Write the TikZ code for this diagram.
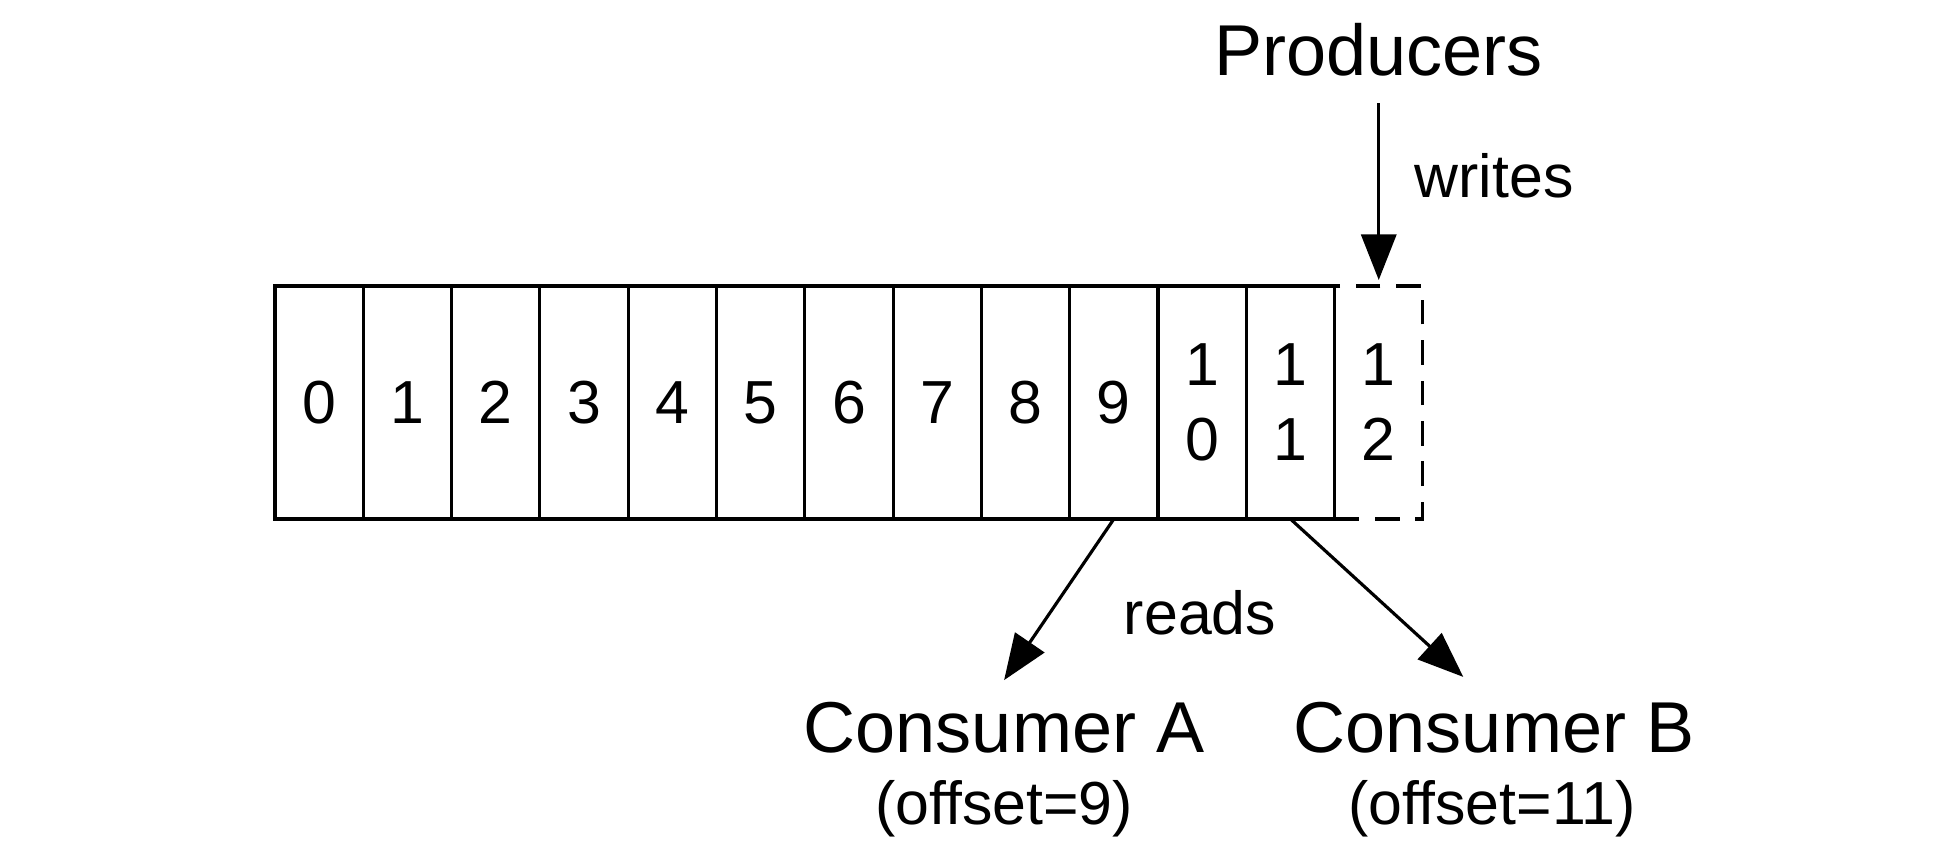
\documentclass[tikz,border=0pt]{standalone}
\usepackage{fontspec}
\setmainfont{Liberation Sans}
\usetikzlibrary{arrows.meta,positioning}
\newcommand{\cellfont}{\fontsize{17.3}{21.3}\selectfont}
\tikzset{
    myptr/.style={
        -{Triangle[length=13pt,width=10pt]},
        line width=0.9pt
    },
    cell/.style={
        draw,
        line width=0.9pt,
        minimum width=0.883cm,
        minimum height=2.33cm,
        inner sep=0pt,
        outer sep=0pt,
        align=center,
        font=\cellfont
    },
    newcell/.style={
        cell,
        dash pattern=on 7pt off 4.5pt
    },
    bigtext/.style={font=\fontsize{20.5}{24}\selectfont, inner sep=2pt},
    smalltext/.style={font=\cellfont, inner sep=2pt}
}

\begin{document}
\begin{tikzpicture}[
        ]
        \useasboundingbox (0,0) rectangle (19.6,8.43);

        % draw the log cells
        \foreach \k in {0,...,9}
        {
            \node[cell] (c\k) at ({2.75+0.883*\k+0.4415},4.405) {\k};
        }
        \node[cell] (c10) at ({2.75+0.883*10+0.4415},4.405) {1\\0};
        \node[cell] (c11) at ({2.75+0.883*11+0.4415},4.405) {1\\1};
        \node[newcell] (c12) at ({2.75+0.883*12+0.4415},4.405) {1\\2};

        % producers
        \node[bigtext, anchor=base] (prod) at (c12 |- 0,7.67) {Producers};
        \draw[myptr, shorten <=5.4pt, shorten >=1.7pt] (prod.south) -- (c12.north);
        \node[smalltext, anchor=base west] (wlbl) at (14.07,6.45) {writes};

        % consumers
        \node[bigtext, anchor=base] (consA) at (10.04,0.90) {Consumer A};
        \node[smalltext, anchor=base] (offA) at (10.04,0.18) {(offset=9)};
        \node[bigtext, anchor=base] (consB) at (14.94,0.90) {Consumer B};
        \node[smalltext, anchor=base] (offB) at (14.92,0.18) {(offset=11)};
        \draw[myptr, shorten >=5.1pt] (c9.south) -- ([xshift=-0.10cm]consA.north);
        \draw[myptr, shorten >=7.6pt] (c11.south) -- ([xshift=-0.11cm]consB.north);
        \node[smalltext, anchor=base] (rlbl) at (12.0,2.08) {reads};
    \end{tikzpicture}
\end{document}
